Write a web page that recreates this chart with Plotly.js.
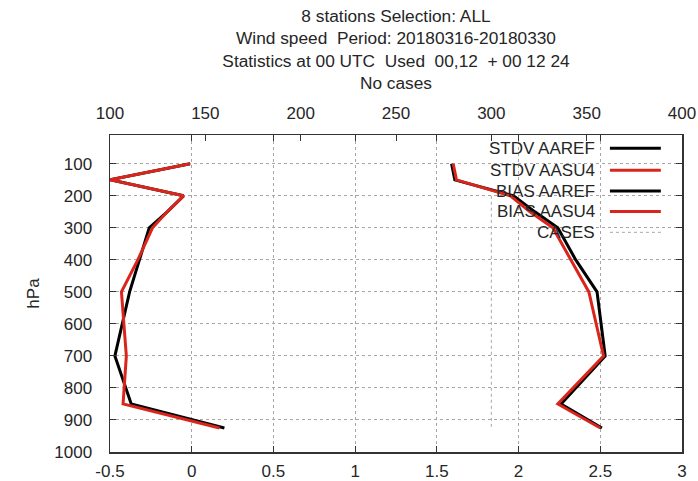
<!DOCTYPE html>
<html>
<head>
<meta charset="utf-8">
<script src="https://cdn.plot.ly/plotly-3.0.1.min.js"></script>
<style>
  html, body { margin: 0; padding: 0; background: #ffffff; }
  #chart { width: 698px; height: 481px; }
</style>
</head>
<body>
<div id="chart"></div>
<script>
// ---- data ----
const titleLines = [
  "8 stations Selection: ALL",
  "Wind speed  Period: 20180316-20180330",
  "Statistics at 00 UTC  Used  00,12  + 00 12 24",
  "No cases"
];
const levels = [100, 150, 200, 250, 300, 400, 500, 700, 850, 925];
const stdvAAREF = [1.59, 1.61, 1.97, 2.10, 2.24, 2.35, 2.48, 2.53, 2.26, 2.51];
const stdvAASU4 = [1.60, 1.62, 1.95, 2.07, 2.21, 2.32, 2.43, 2.52, 2.24, 2.50];
const biasAAREF = [-0.01, -0.50, -0.05, -0.15, -0.26, -0.32, -0.38, -0.47, -0.37, 0.20];
const biasAASU4 = [-0.01, -0.50, -0.05, -0.15, -0.24, -0.33, -0.43, -0.40, -0.42, 0.17];
const casesLevels = [200, 250, 300, 400, 500, 700, 850, 925];
const casesValues = [300, 300, 300, 300, 300, 300, 300, 300];
const seriesNames = ["STDV AAREF", "STDV AASU4", "BIAS AAREF", "BIAS AASU4", "CASES"];
const xTickVals = [-0.5, 0, 0.5, 1, 1.5, 2, 2.5, 3];
const xTickText = ["-0.5", "0", "0.5", "1", "1.5", "2", "2.5", "3"];
const x2TickVals = [100, 150, 200, 250, 300, 350, 400];
const x2TickText = ["100", "150", "200", "250", "300", "350", "400"];
const yTickVals = [100, 200, 300, 400, 500, 600, 700, 800, 900, 1000];
const yTickText = ["100", "200", "300", "400", "500", "600", "700", "800", "900", "1000"];

// ---- styles ----
const BLACK = "#000000";
const RED = "#d9261c";
const GRID = "#a6a6a6";
const FONT = "Liberation Sans, Arial, sans-serif";
const TXT = "#262626";
const LW = 3;

const styles = [
  {color: BLACK, width: LW, dash: "solid"},
  {color: RED, width: LW, dash: "solid"},
  {color: BLACK, width: LW, dash: "solid"},
  {color: RED, width: LW, dash: "solid"},
  {color: GRID, width: 1, dash: "dot"}
];

const traces = [
  {x: stdvAAREF, y: levels, xaxis: "x", yaxis: "y"},
  {x: stdvAASU4, y: levels, xaxis: "x", yaxis: "y"},
  {x: biasAAREF, y: levels, xaxis: "x", yaxis: "y"},
  {x: biasAASU4, y: levels, xaxis: "x", yaxis: "y"},
  {x: casesValues, y: casesLevels, xaxis: "x2", yaxis: "y"}
].map((t, i) => Object.assign(t, {
  type: "scatter",
  mode: "lines",
  name: seriesNames[i],
  line: {color: styles[i].color, width: styles[i].width, dash: styles[i].dash},
  hoverinfo: "skip",
  cliponaxis: true
}));

// ---- custom gnuplot-like key (text right-aligned, sample on its right) ----
const keyTextX = 0.851;
const keySampleX0 = 0.874;
const keySampleX1 = 0.963;
const keyRowsY = [0.958, 0.889, 0.823, 0.759, 0.693];

const annotations = seriesNames.map((nm, i) => ({
  xref: "paper", yref: "paper",
  x: keyTextX, y: keyRowsY[i],
  xanchor: "right", yanchor: "middle",
  text: nm, showarrow: false,
  font: {family: FONT, size: 17, color: TXT}
}));

const shapes = [
  {type: "rect", xref: "paper", yref: "paper", x0: 0.666, x1: 0.983, y0: 0.647, y1: 0.998,
   fillcolor: "#ffffff", line: {width: 0}, layer: "between"}
].concat(seriesNames.map((nm, i) => ({
  type: "line", xref: "paper", yref: "paper",
  x0: keySampleX0, x1: keySampleX1, y0: keyRowsY[i], y1: keyRowsY[i],
  line: {color: styles[i].color, width: styles[i].width, dash: styles[i].dash},
  layer: "above"
})));

const layout = {
  width: 698, height: 481,
  margin: {l: 110, r: 16, t: 135, b: 29, pad: 0},
  paper_bgcolor: "#ffffff",
  plot_bgcolor: "#ffffff",
  showlegend: false,
  font: {family: FONT, size: 17, color: TXT},
  title: {
    text: titleLines.join("<br>"),
    x: 0.5, xref: "paper", xanchor: "center",
    y: 0.955, yref: "container", yanchor: "top",
    font: {family: FONT, size: 17.3, color: TXT}
  },
  xaxis: {
    range: [-0.5, 3],
    tickvals: xTickVals, ticktext: xTickText,
    ticks: "inside", ticklen: 6, tickwidth: 1, tickcolor: "#333333",
    showline: true, linecolor: "#333333", linewidth: 1.5, mirror: "ticks",
    showgrid: true, gridcolor: GRID, griddash: "dot", gridwidth: 1,
    zeroline: false,
    ticklabelstandoff: 3,
    tickfont: {family: FONT, size: 17, color: TXT}
  },
  xaxis2: {
    range: [100, 400],
    overlaying: "x", side: "top", anchor: "y",
    tickvals: x2TickVals, ticktext: x2TickText,
    ticks: "inside", ticklen: 6, tickwidth: 1, tickcolor: "#333333",
    showline: false, showgrid: false, zeroline: false,
    ticklabelstandoff: 12,
    tickfont: {family: FONT, size: 17, color: TXT}
  },
  yaxis: {
    range: [1000, 10],
    tickvals: yTickVals, ticktext: yTickText,
    ticks: "inside", ticklen: 6, tickwidth: 1, tickcolor: "#333333",
    showline: true, linecolor: "#333333", linewidth: 1.5, mirror: "ticks",
    showgrid: true, gridcolor: GRID, griddash: "dot", gridwidth: 1,
    zeroline: false,
    ticklabelstandoff: 13,
    tickfont: {family: FONT, size: 17, color: TXT},
    title: {text: "hPa", standoff: 10, font: {family: FONT, size: 17, color: TXT}}
  },
  annotations: annotations,
  shapes: shapes
};

Plotly.newPlot("chart", traces, layout, {staticPlot: true, displayModeBar: false});
</script>
</body>
</html>
